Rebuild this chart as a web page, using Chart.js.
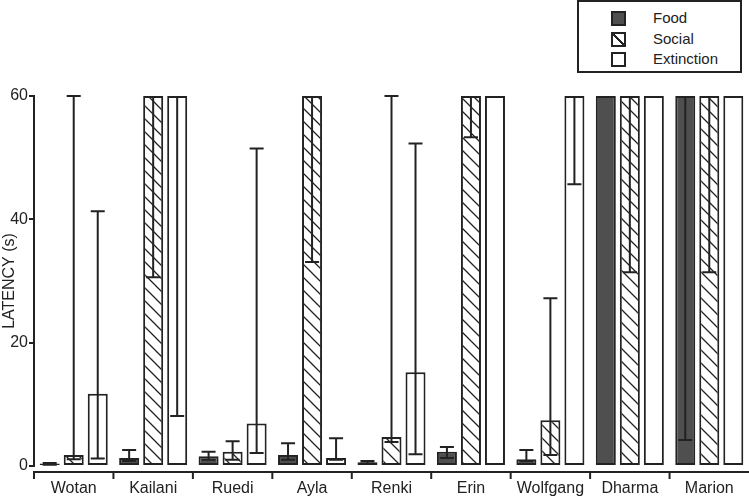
<!DOCTYPE html>
<html>
<head>
<meta charset="utf-8">
<script src="https://cdn.jsdelivr.net/npm/chart.js@4/dist/chart.umd.min.js"></script>
<style>
  html, body { margin: 0; padding: 0; background: #fff; overflow: hidden; }
  #wrap { position: relative; width: 749px; height: 498px; }
  #legend {
    position: absolute; left: 577px; top: 0px; width: 161px; height: 69px;
    border: 2px solid #222; background: #fff;
    font-family: "Liberation Sans", Arial, sans-serif; font-size: 15px; color: #222;
  }
  .row { position: absolute; left: 0; height: 16px; line-height: 16px; }
  .sw { position: absolute; left: 32px; top: 1px; width: 11px; height: 11px; border: 2px solid #222; }
  .lab { position: absolute; left: 74px; top: 0; white-space: nowrap; }
</style>
</head>
<body>
<div id="wrap">
  <canvas id="c" width="749" height="498"></canvas>
  <div id="legend"></div>
</div>
<script>
const categories = ['Wotan', 'Kailani', 'Ruedi', 'Ayla', 'Renki', 'Erin', 'Wolfgang', 'Dharma', 'Marion'];
const seriesNames = ['Food', 'Social', 'Extinction'];

const foodMean = [0.4, 1.3, 1.6, 1.8, 0.6, 2.3, 1.1, 60, 60];
const foodLow  = [0.2, 0.8, 1.0, 1.0, 0.4, 1.3, 0.8, null, 4.2];
const foodHigh = [0.5, 2.6, 2.3, 3.7, 0.8, 3.1, 2.6, null, null];

const socialMean = [1.8, 60, 2.3, 60, 4.7, 60, 7.4, 60, 60];
const socialLow  = [1.1, 30.6, 1.0, 33.1, 3.9, 53.3, 1.8, 31.4, 31.4];
const socialHigh = [60, null, 4.0, null, 60, null, 27.2, null, null];

const extMean = [11.7, 60, 6.9, 1.3, 15.2, 60, 60, 60, 60];
const extLow  = [1.2, 8.1, 2.1, 1.0, 1.9, null, 45.7, null, null];
const extHigh = [41.3, null, 51.5, 4.5, 52.3, null, null, null, null];

const yTicks = [0, 20, 40, 60];
const yTitle = 'LATENCY (s)';

const INK = '#222222';
const FOOD_FILL = '#4f4f4f';
const FONT = '"Liberation Sans", Arial, sans-serif';

// hatch pattern (lines from top-left to bottom-right)
function makeHatch() {
  const s = 13;
  const p = document.createElement('canvas');
  p.width = s; p.height = s;
  const g = p.getContext('2d');
  g.fillStyle = '#fff';
  g.fillRect(0, 0, s, s);
  g.strokeStyle = INK;
  g.lineWidth = 1.3;
  g.beginPath();
  g.moveTo(-2, -2); g.lineTo(s + 2, s + 2);
  g.moveTo(-2, s - 2); g.lineTo(2, s + 2);
  g.moveTo(s - 2, -2); g.lineTo(s + 2, 2);
  g.stroke();
  return document.getElementById('c').getContext('2d').createPattern(p, 'repeat');
}

// legend (HTML)
const legend = document.getElementById('legend');
const swatchStyles = [
  'background:' + FOOD_FILL + ';',
  'background: linear-gradient(to top right, #fff 44%, #222 44%, #222 56%, #fff 56%);',
  'background:#fff;'
];
const rowTops = [8, 29, 49];
seriesNames.forEach((n, i) => {
  const r = document.createElement('div');
  r.className = 'row';
  r.style.top = rowTops[i] + 'px';
  r.innerHTML = '<div class="sw" style="' + swatchStyles[i] + '"></div><div class="lab">' + n + '</div>';
  legend.appendChild(r);
});

const errLow = [foodLow, socialLow, extLow];
const errHigh = [foodHigh, socialHigh, extHigh];

const errorBars = {
  id: 'errorBars',
  afterDatasetsDraw(chart) {
    const ctx = chart.ctx;
    const y = chart.scales.y;
    ctx.save();
    ctx.strokeStyle = INK;
    ctx.lineWidth = 2;
    chart.data.datasets.forEach((ds, di) => {
      const meta = chart.getDatasetMeta(di);
      meta.data.forEach((el, i) => {
        const lo = errLow[di][i], hi = errHigh[di][i];
        const x = el.x;
        const ym = y.getPixelForValue(ds.data[i]);
        const cap = 7;
        ctx.beginPath();
        if (lo !== null) {
          const yl = y.getPixelForValue(lo);
          ctx.moveTo(x, ym); ctx.lineTo(x, yl);
          ctx.moveTo(x - cap, yl); ctx.lineTo(x + cap, yl);
        }
        if (hi !== null) {
          const yh = y.getPixelForValue(hi);
          ctx.moveTo(x, ym); ctx.lineTo(x, yh);
          ctx.moveTo(x - cap, yh); ctx.lineTo(x + cap, yh);
        }
        ctx.stroke();
      });
    });
    ctx.restore();
  }
};

const xAxisLine = {
  id: 'xAxisLine',
  afterDraw(chart) {
    const ctx = chart.ctx;
    const xs = chart.scales.x;
    const a = chart.chartArea;
    const yLine = a.bottom + 6;
    const n = categories.length;
    const w = (xs.getPixelForValue(1) - xs.getPixelForValue(0));
    ctx.save();
    ctx.strokeStyle = INK;
    ctx.lineWidth = 2;
    ctx.beginPath();
    const x0 = xs.getPixelForValue(0) - w / 2;
    ctx.moveTo(x0, yLine); ctx.lineTo(a.right, yLine);
    for (let i = 0; i < n; i++) {
      const bx = xs.getPixelForValue(i) - w / 2;
      ctx.moveTo(bx, yLine - 1); ctx.lineTo(bx, yLine + 7);
    }
    ctx.stroke();
    ctx.restore();
  }
};

const common = { borderColor: INK, borderWidth: 2, borderSkipped: false, categoryPercentage: 0.907, barPercentage: 0.833 };

new Chart(document.getElementById('c'), {
  type: 'bar',
  data: {
    labels: categories,
    datasets: [
      Object.assign({ label: seriesNames[0], data: foodMean, backgroundColor: FOOD_FILL }, common),
      Object.assign({ label: seriesNames[1], data: socialMean, backgroundColor: makeHatch() }, common),
      Object.assign({ label: seriesNames[2], data: extMean, backgroundColor: '#ffffff' }, common)
    ]
  },
  options: {
    responsive: false,
    animation: false,
    devicePixelRatio: 1,
    layout: { padding: { top: 96, right: 0, bottom: 0, left: 0 } },
    plugins: { legend: { display: false }, tooltip: { enabled: false } },
    scales: {
      x: {
        grid: { display: false, drawTicks: false },
        border: { display: false },
        ticks: { color: INK, font: { family: FONT, size: 16 }, padding: 13, maxRotation: 0, autoSkip: false },
        afterFit(s) { s.height = 32; }
      },
      y: {
        min: 0, max: 60,
        afterBuildTicks(s) { s.ticks = yTicks.map(v => ({ value: v })); },
        grid: { drawOnChartArea: false, drawTicks: true, tickLength: 5, color: INK, lineWidth: 2 },
        border: { display: true, color: INK, width: 2 },
        ticks: { color: INK, font: { family: FONT, size: 16 }, padding: 1 },
        title: { display: true, text: yTitle, color: INK, font: { family: FONT, size: 16 }, padding: { top: 0, bottom: 0 } },
        afterFit(s) { s.width = 34; }
      }
    }
  },
  plugins: [errorBars, xAxisLine]
});
</script>
</body>
</html>
